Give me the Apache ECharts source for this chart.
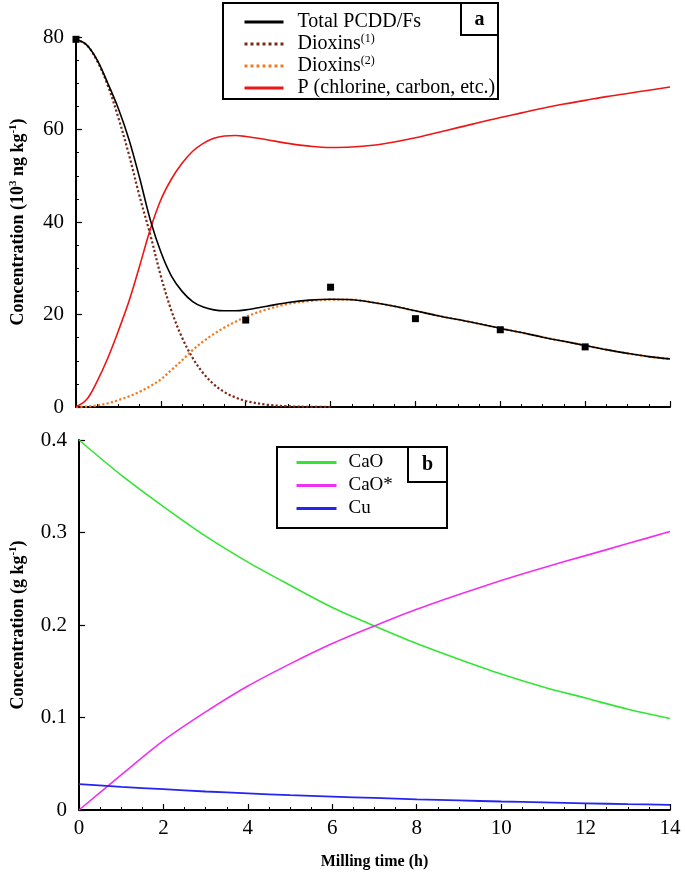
<!DOCTYPE html>
<html>
<head>
<meta charset="utf-8">
<script src="https://cdn.jsdelivr.net/npm/echarts@6/dist/echarts.min.js"></script>
<style>html,body{margin:0;padding:0;background:#fff;}#c{width:685px;height:878px;}</style>
</head>
<body>
<div id="c"></div>
<script>
// ---- Panel a data (x = milling time, h) ----
var tTop = [0,0.25,0.5,0.75,1,1.25,1.5,1.75,2,2.25,2.5,2.75,3,3.25,3.5,3.75,4,4.5,5,5.5,6,6.5,7,7.5,8,8.5,9,9.5,10,10.5,11,11.5,12,12.5,13,13.5,14];
var totalPCDD = [79.5,78.3,75.0,70.0,64.5,57.8,49.5,40.5,33.5,28.3,25.0,22.8,21.6,21.0,20.8,20.8,21.0,21.8,22.6,23.1,23.3,23.2,22.6,21.8,20.8,19.8,18.9,18.0,17.0,16.1,15.1,14.2,13.3,12.4,11.6,10.9,10.4];
var dioxins1 = [79.5,78.3,74.8,69.5,62.5,54.5,45.5,37.3,28.3,20.8,15.0,10.6,7.3,4.9,3.2,2.1,1.3,0.5,0.15,0.04,0.0];
var dioxins2 = [0,0.1,0.35,0.8,1.5,2.3,3.3,4.5,6.0,8.0,10.1,12.3,14.2,15.8,17.2,18.4,19.5,21.1,22.3,22.9,23.2,23.2,22.6,21.8,20.8,19.8,18.9,18.0,17.0,16.1,15.1,14.2,13.3,12.4,11.6,10.9,10.4];
var pChlorine = [0,1.6,5.6,10.6,16.5,22.9,30.5,38.4,44.8,49.3,52.7,55.3,57.0,58.1,58.6,58.7,58.5,57.8,57.0,56.4,56.1,56.2,56.6,57.3,58.2,59.3,60.4,61.5,62.6,63.6,64.6,65.5,66.3,67.1,67.8,68.5,69.2];
var tMeas = [0,4,6,8,10,12];
var measured = [79.5,18.8,25.9,19.1,16.7,13.0];
var topTicks = [0,20,40,60,80];

// ---- Panel b data ----
var tBot = [0,1,2,3,4,5,6,7,8,9,10,11,12,13,14];
var cao = [0.400,0.362,0.328,0.296,0.268,0.243,0.219,0.199,0.180,0.163,0.147,0.133,0.121,0.109,0.099];
var caoStar = [0,0.038,0.075,0.106,0.134,0.158,0.180,0.199,0.217,0.233,0.248,0.262,0.275,0.288,0.301];
var cu = [0.028,0.025,0.0225,0.020,0.018,0.016,0.0145,0.013,0.0115,0.0103,0.0092,0.0082,0.0072,0.0063,0.0056];
var botTicks = [0,0.1,0.2,0.3,0.4];
var xTicks = [0,2,4,6,8,10,12,14];

function pairs(xs, ys){ var o=[]; for(var i=0;i<ys.length;i++) o.push([xs[i], ys[i]]); return o; }

var FONT = '"Liberation Serif", "Times New Roman", serif';
var chart = echarts.init(document.getElementById('c'), null, {renderer:'canvas'});

function xAxisCfg(idx, showLabels){
  return {
    type:'value', gridIndex: idx, min: xTicks[0], max: xTicks[xTicks.length-1], interval: 2,
    axisLine:{show:true, onZero:false, lineStyle:{color:'#000', width:2}},
    axisTick:{show:true, inside:true, length:6, lineStyle:{color:'#000', width:1.2}},
    minorTick:{show:true, splitNumber:4, length:3, lineStyle:{color:'#000', width:1}},
    splitLine:{show:false},
    axisLabel:{show: showLabels, color:'#000', fontFamily:FONT, fontSize:21, margin:8},
    name: showLabels ? 'Milling time (h)' : '',
    nameLocation:'middle', nameGap:44,
    nameTextStyle:{color:'#000', fontFamily:FONT, fontSize:16, fontWeight:'bold'}
  };
}

var option = {
  animation:false,
  backgroundColor:'#fff',
  grid:[
    {left:72, right:15, top:37, height:370},
    {left:72, right:15, top:440, height:370}
  ],
  xAxis:[ xAxisCfg(0,false), xAxisCfg(1,true) ],
  yAxis:[
    {type:'value', gridIndex:0, min:topTicks[0], max:topTicks[topTicks.length-1], interval:20,
     axisLine:{show:true, lineStyle:{color:'#000', width:2}},
     axisTick:{show:true, inside:true, length:6, lineStyle:{color:'#000', width:1.2}},
     minorTick:{show:true, splitNumber:4, length:3, lineStyle:{color:'#000', width:1}},
     splitLine:{show:false},
     axisLabel:{color:'#000', fontFamily:FONT, fontSize:21, margin:12},
     name:'Concentration (10{s|3} ng kg{s|-1})', nameLocation:'middle', nameGap:47,
     nameTextStyle:{color:'#000', fontFamily:FONT, fontSize:18, fontWeight:'bold',
       rich:{s:{fontFamily:FONT, fontSize:11, fontWeight:'bold', color:'#000', padding:[0,0,10,0]}}}
    },
    {type:'value', gridIndex:1, min:botTicks[0], max:botTicks[botTicks.length-1], interval:0.1,
     axisLine:{show:true, lineStyle:{color:'#000', width:2}},
     axisTick:{show:true, inside:true, length:6, lineStyle:{color:'#000', width:1.2}},
     splitLine:{show:false},
     axisLabel:{color:'#000', fontFamily:FONT, fontSize:21, margin:12,
       formatter:function(v){ return v===0 ? '0' : v.toFixed(1); }},
     name:'Concentration (g kg{s|-1})', nameLocation:'middle', nameGap:50,
     nameTextStyle:{color:'#000', fontFamily:FONT, fontSize:18, fontWeight:'bold',
       rich:{s:{fontFamily:FONT, fontSize:11, fontWeight:'bold', color:'#000', padding:[0,0,10,0]}}}
    }
  ],
  legend:[
    {data:['Total PCDD/Fs','Dioxins(1)','Dioxins(2)','P (chlorine, carbon, etc.)'],
     orient:'vertical', left:238, top:6, itemWidth:39, itemHeight:10, itemGap:0,
     selectedMode:false, icon:'inherit',
     itemStyle:{opacity:0},
     lineStyle:{width:3},
     textStyle:{color:'#000', fontFamily:FONT, fontSize:20, lineHeight:22, padding:[0,0,0,9],
       rich:{s:{fontFamily:FONT, fontSize:12, color:'#000', padding:[0,0,10,0]}}},
     formatter:function(n){ return n.replace('(1)','{s|(1)}').replace('(2)','{s|(2)}'); }
    },
    {data:['CaO','CaO*','Cu'],
     orient:'vertical', left:290, top:446, itemWidth:40, itemHeight:10, itemGap:0,
     selectedMode:false, icon:'inherit',
     itemStyle:{opacity:0},
     lineStyle:{width:3},
     textStyle:{color:'#000', fontFamily:FONT, fontSize:19, lineHeight:23, padding:[0,0,0,7]}
    }
  ],
  series:[
    {name:'Total PCDD/Fs', type:'line', xAxisIndex:0, yAxisIndex:0, data:pairs(tTop,totalPCDD),
     smooth:0.35, symbol:'none', lineStyle:{color:'#000', width:1.6}, itemStyle:{color:'#000'}, z:5},
    {name:'Dioxins(1)', type:'line', xAxisIndex:0, yAxisIndex:0, data:pairs(tTop,dioxins1),
     smooth:0.35, symbol:'none', lineStyle:{color:'#7a2a14', width:2.2, type:'dotted'}, itemStyle:{color:'#6e1010'}, z:3},
    {name:'Dioxins(2)', type:'line', xAxisIndex:0, yAxisIndex:0, data:pairs(tTop,dioxins2),
     smooth:0.35, symbol:'none', lineStyle:{color:'#f07a20', width:2.2, type:'dotted'}, itemStyle:{color:'#f07a20'}, z:3},
    {name:'P (chlorine, carbon, etc.)', type:'line', xAxisIndex:0, yAxisIndex:0, data:pairs(tTop,pChlorine),
     smooth:0.35, symbol:'none', lineStyle:{color:'#ee1515', width:1.6}, itemStyle:{color:'#ee1515'}, z:4},
    {name:'measured', type:'scatter', xAxisIndex:0, yAxisIndex:0, data:pairs(tMeas,measured),
     symbol:'rect', symbolSize:7, itemStyle:{color:'#000', opacity:1}, z:6},
    {name:'CaO', type:'line', xAxisIndex:1, yAxisIndex:1, data:pairs(tBot,cao),
     smooth:0.3, symbol:'none', lineStyle:{color:'#33e533', width:1.6}, itemStyle:{color:'#33e533'}},
    {name:'CaO*', type:'line', xAxisIndex:1, yAxisIndex:1, data:pairs(tBot,caoStar),
     smooth:0.3, symbol:'none', lineStyle:{color:'#f030f0', width:1.6}, itemStyle:{color:'#f030f0'}},
    {name:'Cu', type:'line', xAxisIndex:1, yAxisIndex:1, data:pairs(tBot,cu),
     smooth:0.3, symbol:'none', lineStyle:{color:'#2525ee', width:1.8}, itemStyle:{color:'#2525ee'}}
  ],
  graphic:[
    {type:'rect', shape:{x:223, y:3, width:275, height:96}, style:{fill:'none', stroke:'#000', lineWidth:2}, z:10},
    {type:'rect', shape:{x:461, y:3, width:37, height:32}, style:{fill:'none', stroke:'#000', lineWidth:2}, z:10},
    {type:'text', x:479.5, y:19.5, style:{text:'a', font:'bold 20px "Liberation Serif"', fill:'#000', textAlign:'center', textVerticalAlign:'middle'}, z:10},
    {type:'rect', shape:{x:277, y:447, width:170, height:81}, style:{fill:'none', stroke:'#000', lineWidth:2}, z:10},
    {type:'rect', shape:{x:408, y:447, width:39, height:35}, style:{fill:'none', stroke:'#000', lineWidth:2}, z:10},
    {type:'text', x:427.5, y:464.5, style:{text:'b', font:'bold 20px "Liberation Serif"', fill:'#000', textAlign:'center', textVerticalAlign:'middle'}, z:10}
  ]
};
chart.setOption(option);
</script>
</body>
</html>
